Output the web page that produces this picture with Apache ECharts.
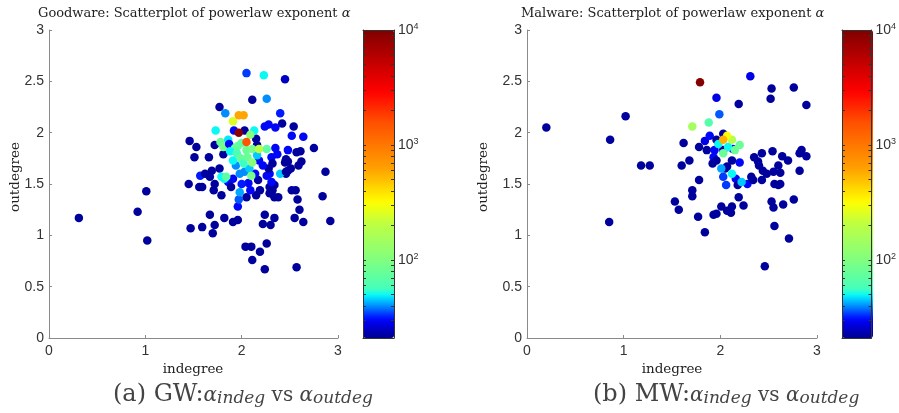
<!DOCTYPE html>
<html>
<head>
<meta charset="utf-8">
<script src="https://cdn.jsdelivr.net/npm/echarts@6/dist/echarts.min.js"></script>
<style>html,body{margin:0;padding:0;background:#fff;}#c{width:899px;height:413px;}</style>
</head>
<body>
<div id="c"></div>
<script>
// [indegree exponent, outdegree exponent, count]
var gwPoints = [
  [0.31,1.17,22],[0.92,1.23,22],[1.01,1.43,22],[1.02,0.95,22],
  [1.45,1.50,22],[1.46,1.92,22],[1.53,1.86,22],[1.51,1.76,22],[1.47,1.07,22],[1.59,1.08,22],
  [1.56,1.47,22],[1.59,1.47,22],[1.57,1.58,32],[1.62,1.60,22],[1.69,1.63,22],[1.77,1.65,22],
  [1.67,1.57,22],[1.72,1.50,22],[1.71,1.44,22],[1.79,1.39,22],
  [1.66,1.76,22],[1.67,1.20,22],[1.70,1.02,22],[1.72,1.10,22],[1.82,1.17,22],[1.91,1.13,22],
  [1.96,1.15,22],[1.96,1.28,30],
  [1.77,2.25,22],[1.83,2.19,40],[1.73,2.02,50],[1.72,1.88,22],
  [2.05,2.58,34],[2.23,2.56,50],[2.45,2.52,25],[2.11,2.32,22],[2.26,2.33,40],[2.40,2.19,32],[2.42,2.09,22],
  [2.28,2.08,30],[2.24,2.06,30],[2.35,2.05,30],[2.54,2.06,22],[2.52,1.97,30],[2.64,1.96,30],[2.75,1.85,22],
  [1.92,2.02,30],[2.03,2.02,22],[2.15,1.94,22],
  [1.81,1.79,22],[2.16,1.88,22],[2.35,1.85,30],[2.48,1.83,30],[2.57,1.81,22],[2.61,1.82,22],
  [2.62,1.72,22],[2.59,1.68,22],
  [2.31,1.76,30],[2.37,1.79,30],[2.46,1.74,22],[2.45,1.71,22],[2.48,1.72,22],
  [2.48,1.63,22],[2.51,1.65,22],[2.46,1.60,22],[2.40,1.60,45],[2.46,1.62,22],
  [2.87,1.62,22],[2.84,1.38,22],[2.92,1.14,22],[2.64,1.13,22],[2.55,1.17,22],[2.60,1.25,22],
  [2.58,1.35,22],[2.52,1.44,22],[2.56,1.44,22],
  [2.57,0.69,22],[2.24,0.67,22],[2.19,0.84,22],[2.11,0.76,22],[2.04,0.89,22],[2.10,0.89,22],[2.26,0.92,22],
  [2.22,1.11,22],[2.30,1.10,22],[2.34,1.17,22],[2.24,1.20,22],
  [2.38,1.37,22],[2.34,1.37,22],[2.29,1.41,22],[2.32,1.44,22],[2.29,1.47,22],[2.19,1.44,22],[2.15,1.39,22],
  [2.05,1.37,22],[1.97,1.35,36],[1.98,1.42,42],[2.09,1.44,30],
  [2.34,1.49,22],[2.31,1.52,30],[2.29,1.60,30],[2.26,1.58,30],[2.17,1.54,22],[2.14,1.60,30],
  [2.07,1.51,30],[2.00,1.50,32],
  [1.86,1.52,30],[1.91,1.55,30],[1.89,1.47,22],[1.98,1.60,40],
  [2.32,1.70,22],[2.28,1.65,22],[2.18,1.73,30],
  [1.94,1.68,40],[2.03,1.62,40],[2.08,1.65,45],[2.22,1.68,30],[2.16,1.78,45],
  [1.82,1.55,50],[1.79,1.57,50],[1.84,1.57,70],[2.10,1.58,90],
  [1.78,1.91,80],[1.81,1.86,90],[1.86,1.93,48],[1.87,1.89,30],[1.93,1.85,80],[1.96,1.87,75],[2.00,1.90,70],
  [1.88,1.82,50],[1.95,1.80,60],[2.05,1.83,80],[2.11,1.84,90],[1.91,1.73,50],[1.99,1.75,75],
  [2.02,1.70,55],[2.06,1.76,80],[2.11,1.71,110],
  [2.26,1.84,70],[2.13,2.02,50],[2.09,1.98,110],[2.18,1.84,200],
  [1.91,2.11,250],[1.97,2.17,600],[2.02,2.17,600],[2.05,1.91,1500],[1.97,2.00,9000]
];
var mwPoints = [
  [0.20,2.05,22],[1.02,2.16,22],[0.86,1.93,22],[0.85,1.13,22],[1.18,1.68,22],[1.27,1.68,22],
  [1.53,1.33,22],[1.57,1.25,22],[1.60,1.68,22],[1.62,1.90,22],[1.68,1.73,22],[1.71,1.44,22],
  [1.71,1.38,22],[1.78,1.54,22],[1.77,1.18,22],[1.84,1.03,22],
  [1.96,2.34,28],[1.99,2.18,36],[2.19,2.28,22],[2.31,2.55,28],[2.53,2.43,22],[2.52,2.33,22],
  [2.76,2.44,22],[2.89,2.27,22],
  [1.78,1.86,22],[1.84,1.92,28],[1.89,1.97,30],[1.86,1.83,22],[1.94,1.83,30],[1.96,1.93,22],[2.03,1.99,22],
  [2.03,1.83,22],[2.13,1.84,30],[1.93,1.76,30],[1.96,1.73,22],[1.92,1.70,22],[2.07,1.67,22],
  [2.12,1.73,22],[2.20,1.71,30],[2.05,1.65,22],
  [2.01,1.65,42],[2.03,1.57,34],[2.06,1.49,34],[2.16,1.55,30],[2.18,1.49,22],[2.28,1.50,30],
  [2.32,1.57,22],[2.34,1.54,22],
  [2.35,1.76,22],[2.39,1.72,22],[2.43,1.80,22],[2.40,1.68,22],[2.44,1.63,22],[2.43,1.54,22],
  [2.48,1.60,22],[2.54,1.82,22],[2.55,1.62,22],[2.56,1.50,22],[2.60,1.49,22],[2.62,1.50,22],
  [2.60,1.68,22],[2.62,1.61,22],[2.64,1.77,22],[2.70,1.73,22],[2.84,1.83,22],[2.82,1.80,22],
  [2.89,1.77,22],[2.82,1.63,22],
  [2.53,1.33,22],[2.55,1.27,22],[2.65,1.30,22],[2.76,1.35,22],[2.56,1.09,22],[2.71,0.97,22],[2.46,0.70,22],
  [2.01,1.28,22],[2.07,1.24,22],[2.12,1.28,22],[2.11,1.22,22],[1.96,1.21,22],[1.93,1.20,22],
  [2.19,1.37,22],[2.24,1.29,22],
  [2.12,1.60,50],[2.22,1.52,45],[1.98,1.89,50],[2.08,1.86,50],[2.15,1.83,80],[2.20,1.88,80],
  [2.03,1.80,80],[1.88,2.10,65],[1.71,2.06,150],[2.12,1.93,180],[2.07,1.97,300],[2.03,1.93,550],
  [1.79,2.49,9500]
];
var xTicks = [0, 1, 2, 3];
var yTicks = [0, 0.5, 1, 1.5, 2, 2.5, 3];
var cbMin = 21, cbMax = 10000;
var cbLabelTicks = [100, 1000, 10000];
var cbTicks = [30,40,50,60,70,80,90,100,200,300,400,500,600,700,800,900,1000,2000,3000,4000,5000,6000,7000,8000,9000,10000];

// colormap stops (fraction along colorbar, colour)
var jetStops = [[0,'#00008F'],[0.06,'#0000FF'],[0.10,'#0080FF'],[0.141,'#00FFFF'],[0.152,'#40FFC0'],
  [0.252,'#80FF80'],[0.374,'#C0FF40'],[0.44,'#FFFF00'],[0.55,'#FFA000'],[0.70,'#FF5000'],[0.80,'#FF0000'],[1,'#800000']];
function hex(c){return [parseInt(c.substr(1,2),16),parseInt(c.substr(3,2),16),parseInt(c.substr(5,2),16)];}
var cmap = [];
for (var i = 0; i < 64; i++) {
  var f = i / 63, k = 0;
  while (k < jetStops.length - 2 && f > jetStops[k+1][0]) k++;
  var a = jetStops[k], b = jetStops[k+1], t = (f - a[0]) / (b[0] - a[0]);
  var ca = hex(a[1]), cb = hex(b[1]);
  cmap.push('rgb(' + [0,1,2].map(function(j){return Math.round(ca[j] + (cb[j]-ca[j])*t);}).join(',') + ')');
}
function toData(pts){ return pts.map(function(p){ return [p[0], p[1], Math.log10(p[2])]; }); }
var lg = function(v){ return Math.log10(v); };

var SANS = 'Liberation Sans, Arial, sans-serif';
var SERIF = 'DejaVu Serif, serif';
var grids = [
  {left: 49, top: 30, width: 289, height: 308},
  {left: 527, top: 30, width: 290, height: 308},
  {left: 363, top: 30, width: 31, height: 308},
  {left: 842, top: 30, width: 31, height: 308}
];
function mainX(g){ return {gridIndex: g, type: 'value', min: 0, max: 3, interval: 1,
  axisLine: {lineStyle: {color: '#8a8a8a', width: 1}},
  axisTick: {inside: true, length: 3, lineStyle: {color: '#8a8a8a'}},
  axisLabel: {customValues: xTicks, color: '#333', fontFamily: SANS, fontSize: 14, margin: 6},
  splitLine: {show: false}}; }
function mainY(g){ return {gridIndex: g, type: 'value', min: 0, max: 3, interval: 0.5,
  axisLine: {show: true, lineStyle: {color: '#8a8a8a', width: 1}},
  axisTick: {show: true, inside: true, length: 3, lineStyle: {color: '#8a8a8a'}},
  axisLabel: {customValues: yTicks, color: '#333', fontFamily: SANS, fontSize: 14, margin: 5},
  splitLine: {show: false}}; }
function cbX(g, pos){ return {gridIndex: g, type: 'value', min: 0, max: 1, position: pos, z: 10,
  axisLine: {show: true, onZero: false, lineStyle: {color: '#333'}}, axisTick: {show: false},
  axisLabel: {show: false}, splitLine: {show: false}}; }
function cbY(g, pos, labels){ return {gridIndex: g, type: 'value', min: lg(cbMin), max: lg(cbMax), position: pos, z: 10,
  axisLine: {show: true, onZero: false, lineStyle: {color: '#333'}},
  axisTick: {show: true, inside: true, length: 3, customValues: cbTicks.map(lg), lineStyle: {color: '#333'}},
  axisLabel: {show: labels, customValues: cbLabelTicks.map(lg), margin: 4, color: '#333',
    formatter: function(v){ return '{b|10}{s|' + Math.round(v) + '}'; },
    rich: {b: {fontFamily: SANS, fontSize: 14, color: '#333', lineHeight: 16},
           s: {fontFamily: SANS, fontSize: 9, color: '#333', verticalAlign: 'top', lineHeight: 9, padding: [0,0,6,0]}}},
  splitLine: {show: false}}; }

function txt(x, y, text, rich, align, rot){
  return {type: 'text', x: x, y: y, rotation: rot || 0, silent: true,
    style: {text: text, rich: rich, align: align || 'left', verticalAlign: 'middle'}};
}
var titleRich = {n: {fontFamily: SERIF, fontSize: 13, fill: '#222'}, i: {fontFamily: SERIF, fontSize: 13, fontStyle: 'italic', fill: '#222'}};
var labRich = {n: {fontFamily: SERIF, fontSize: 13.5, fill: '#222'}};
var capRich = {n: {fontFamily: SERIF, fontSize: 24, fill: '#444', lineHeight: 27},
  v: {fontFamily: SERIF, fontSize: 20, fill: '#444', lineHeight: 27, padding: [2,0,0,0]},
  a: {fontFamily: SERIF, fontSize: 20, fontStyle: 'italic', fill: '#444', lineHeight: 27, padding: [2,0,0,0]},
  s: {fontFamily: SERIF, fontSize: 17, fontStyle: 'italic', fill: '#444', lineHeight: 27, padding: [8,0,0,0]}};

var option = {
  animation: false,
  backgroundColor: '#fff',
  grid: grids,
  xAxis: [mainX(0), mainX(1), cbX(2,'bottom'), cbX(2,'top'), cbX(3,'bottom'), cbX(3,'top')],
  yAxis: [mainY(0), mainY(1), cbY(2,'left',false), cbY(2,'right',true), cbY(3,'left',false), cbY(3,'right',true)],
  visualMap: [
    {type: 'continuous', seriesIndex: 0, dimension: 2, min: lg(cbMin), max: lg(cbMax), calculable: false,
     left: 363, top: 30, itemWidth: 31, itemHeight: 308, padding: 0, hoverLink: false, inRange: {color: cmap}},
    {type: 'continuous', seriesIndex: 1, dimension: 2, min: lg(cbMin), max: lg(cbMax), calculable: false,
     left: 842, top: 30, itemWidth: 31, itemHeight: 308, padding: 0, hoverLink: false, inRange: {color: cmap}}
  ],
  series: [
    {type: 'scatter', xAxisIndex: 0, yAxisIndex: 0, data: toData(gwPoints), symbolSize: 8.5, itemStyle: {opacity: 1}},
    {type: 'scatter', xAxisIndex: 1, yAxisIndex: 1, data: toData(mwPoints), symbolSize: 8.5, itemStyle: {opacity: 1}}
  ],
  graphic: [
    txt(38, 14, '{n|Goodware: Scatterplot of powerlaw exponent }{i|α}', titleRich),
    txt(521, 14, '{n|Malware: Scatterplot of powerlaw exponent }{i|α}', titleRich),
    txt(193, 369, '{n|indegree}', labRich, 'center'),
    txt(672, 369, '{n|indegree}', labRich, 'center'),
    txt(15, 177, '{n|outdegree}', labRich, 'center', Math.PI/2),
    txt(483, 177, '{n|outdegree}', labRich, 'center', Math.PI/2),
    txt(113, 395, '{n|(a) GW:}{a|α}{s|indeg}{v| vs }{a|α}{s|outdeg}', capRich),
    txt(593, 395, '{n|(b) MW:}{a|α}{s|indeg}{v| vs }{a|α}{s|outdeg}', capRich)
  ]
};
var chart = echarts.init(document.getElementById('c'), null, {renderer: 'canvas'});
chart.setOption(option);
</script>
</body>
</html>
